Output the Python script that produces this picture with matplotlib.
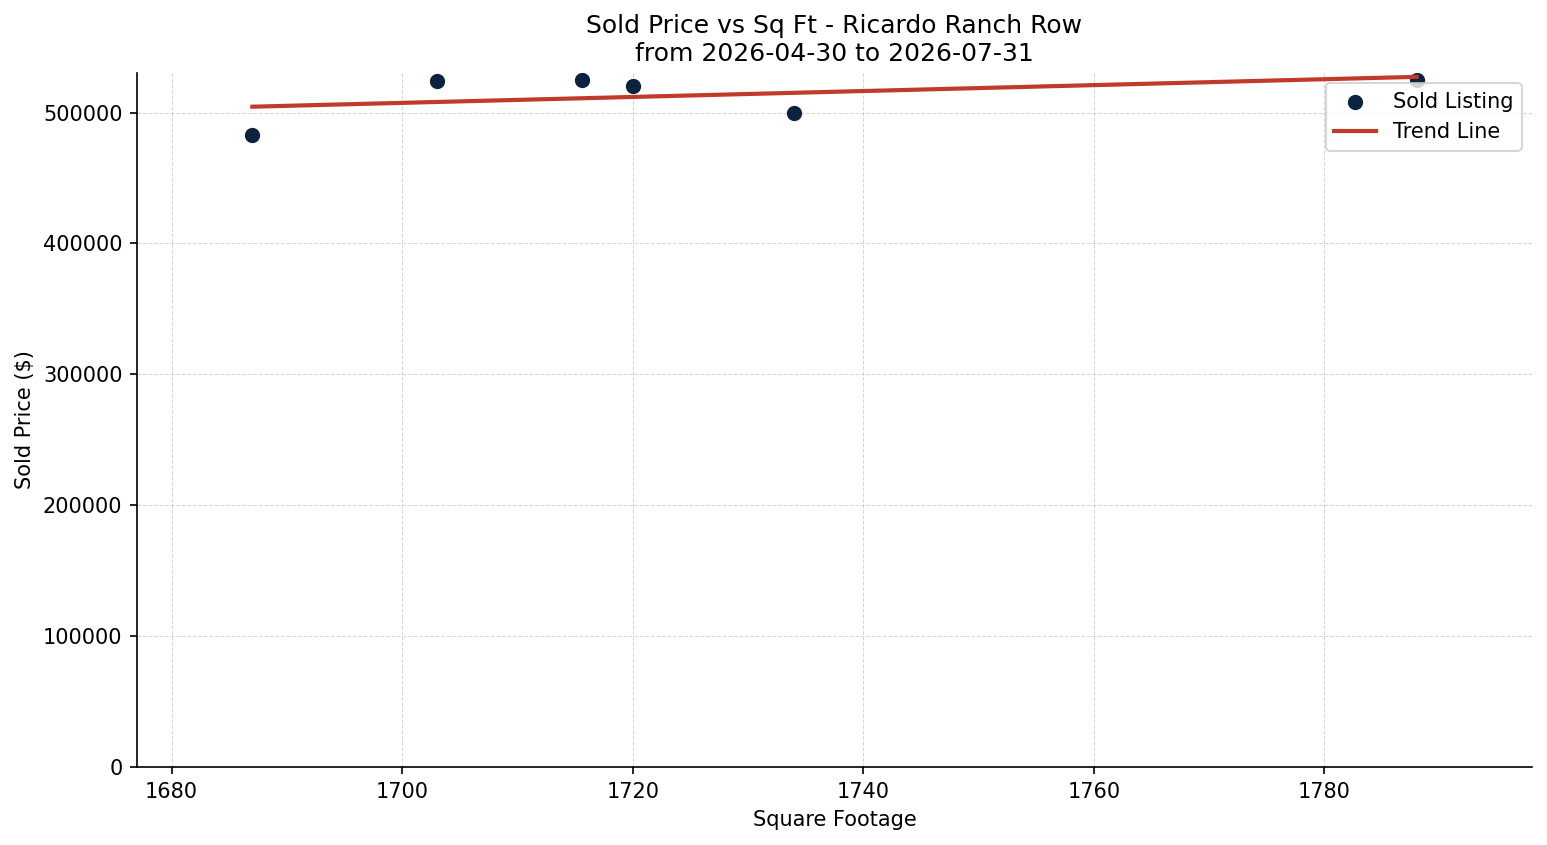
import numpy as np
import matplotlib
matplotlib.use("Agg")
import matplotlib.pyplot as plt

# Sold listings
sqft = np.array([1687, 1703, 1715.6, 1720, 1734, 1788])
price = np.array([483000, 524500, 525000, 520500, 500000, 525000])

title = "Sold Price vs Sq Ft - Ricardo Ranch Row\nfrom 2026-04-30 to 2026-07-31"

fig, ax = plt.subplots(figsize=(1547 / 150, 845 / 150), dpi=150)

ax.scatter(sqft, price, color="#0b2341", s=40, label="Sold Listing", zorder=2)

# trend line from a linear fit
m, b = np.polyfit(sqft, price, 1)
xs = np.array([sqft.min(), sqft.max()])
ax.plot(xs, m * xs + b, color="#c0392b", linewidth=2, label="Trend Line", zorder=3)

ax.set_title(title)
ax.set_xlabel("Square Footage")
ax.set_ylabel("Sold Price ($)")
ax.set_xlim(sqft.min() - 10, sqft.max() + 10)
ax.set_ylim(0, price.max() * 1.01)
ax.grid(True, linestyle="--", linewidth=0.5, color="#cccccc", alpha=0.8)
ax.spines["top"].set_visible(False)
ax.spines["right"].set_visible(False)
ax.legend(loc="upper right")

plt.subplots_adjust(left=0.0886, right=0.9903, top=0.9136, bottom=0.0923)
plt.savefig("out.png", dpi=150)
